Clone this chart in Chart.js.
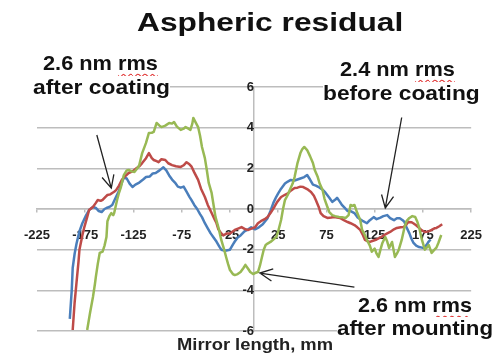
<!DOCTYPE html>
<html><head><meta charset="utf-8">
<script src="https://cdn.jsdelivr.net/npm/chart.js@4.4.0/dist/chart.umd.min.js"></script>
<style>
html,body{margin:0;padding:0;background:#fff;}
#wrap{position:relative;width:498px;height:359px;overflow:hidden;background:#fff;}
canvas{position:absolute;left:0;top:0;}
.t{position:absolute;white-space:nowrap;font-family:'Liberation Sans',Arial,sans-serif;font-weight:bold;color:#111;line-height:1;transform-origin:0 0;}
.bg{background:#fff;}
.sq{text-decoration:underline wavy #e03030;text-decoration-thickness:1px;text-underline-offset:3px;}
</style></head>
<body><div id="wrap"><canvas id="c" width="498" height="359"></canvas>
<div class="t" data-w="266" style="left:137px;top:9px;font-size:26px">Aspheric residual</div>
<div class="t bg" data-w="115" style="left:43px;top:52px;font-size:21px">2.6 nm <span class="sq">rms</span></div>
<div class="t bg" data-w="137" style="left:33px;top:76px;font-size:21px">after coating</div>
<div class="t bg" data-w="115" style="left:340px;top:58px;font-size:21px">2.4 nm <span class="sq">rms</span></div>
<div class="t bg" data-w="157" style="left:323px;top:82px;font-size:21px">before coating</div>
<div class="t bg" data-w="114" style="left:358px;top:294px;font-size:21px">2.6 nm <span class="sq">rms</span></div>
<div class="t bg" data-w="156" style="left:337px;top:317px;font-size:21px">after mounting</div>
<div class="t" data-w="156" style="left:177px;top:337px;font-size:16px;color:#222">Mirror length, mm</div>
</div>
<script>
// ---- data ----
const xTickValues = [-225, -175, -125, -75, -25, 25, 75, 125, 175, 225];
const yTickValues = [-6, -4, -2, 0, 2, 4, 6];
const seriesNames = ['after mounting', 'after coating', 'before coating'];

const blueSeries = [[-191,-5.4],[-189,-4.0],[-188,-2.9],[-186,-2.2],[-184,-1.7],[-181,-1.1],[-178,-0.7],[-174,-0.3],[-171,-0.05],[-167,0.1],[-164,0.05],[-161,-0.1],[-158,-0.15],[-155,0.0],[-153,0.05],[-150,0.1],[-147,0.2],[-144,0.5],[-140,0.9],[-137,1.3],[-135,1.55],[-132,1.5],[-129,1.25],[-126,1.08],[-123,1.2],[-119,1.3],[-115,1.45],[-112,1.57],[-108,1.6],[-105,1.75],[-102,1.77],[-98,1.9],[-94,2.05],[-91,1.9],[-88,1.65],[-85,1.45],[-82,1.3],[-79,1.1],[-76,1.05],[-73,1.1],[-70,0.85],[-67,0.6],[-65,0.45],[-62,0.2],[-59,0.0],[-56,-0.25],[-54,-0.4],[-51,-0.7],[-48,-0.95],[-45,-1.2],[-42,-1.4],[-39,-1.6],[-36,-1.85],[-34,-2.0],[-30,-2.05],[-25,-2.0],[-22,-1.75],[-20,-1.6],[-17,-1.4],[-14,-1.3],[-10,-1.1],[-6,-1.0],[-3,-0.9],[1,-1.0],[5,-0.9],[9,-0.75],[14,-0.45],[17,-0.1],[20,0.3],[23,0.6],[25,0.77],[28,1.0],[32,1.25],[35,1.35],[38,1.43],[42,1.4],[45,1.45],[48,1.5],[52,1.57],[55,1.67],[58,1.45],[61,1.2],[64,1.15],[68,1.05],[71,0.95],[74,0.8],[78,0.55],[81,0.35],[84,0.45],[86,0.55],[89,0.35],[91,0.2],[94,0.05],[97,-0.1],[100,-0.1],[104,-0.2],[107,-0.4],[110,-0.5],[113,-0.6],[117,-0.7],[120,-0.55],[124,-0.4],[127,-0.5],[131,-0.42],[134,-0.35],[138,-0.3],[141,-0.45],[145,-0.55],[148,-0.45],[151,-0.45],[154,-0.55],[156,-0.65],[158,-0.9],[161,-1.2],[163,-1.45],[165,-1.65],[168,-1.8],[171,-1.87],[174,-1.9],[176,-1.92],[179,-1.75],[181,-1.6],[183,-1.5]];

const redSeries = [[-188,-5.95],[-186,-4.6],[-184,-3.6],[-182,-2.6],[-181,-2.0],[-178,-1.3],[-176,-0.9],[-173,-0.4],[-171,-0.05],[-167,0.1],[-164,0.3],[-162,0.44],[-159,0.4],[-157,0.45],[-154,0.6],[-152,0.69],[-149,0.72],[-147,0.79],[-145,0.85],[-143,0.93],[-140,1.15],[-137,1.43],[-134,1.6],[-130,1.77],[-126,1.85],[-122,2.0],[-119,2.1],[-116,2.26],[-112,2.5],[-109,2.75],[-106,2.5],[-104,2.41],[-101,2.35],[-99,2.3],[-96,2.45],[-92,2.41],[-89,2.25],[-85,2.16],[-81,2.1],[-76,2.07],[-73,2.15],[-70,2.3],[-67,2.2],[-65,2.1],[-62,1.8],[-58,1.43],[-55,1.0],[-51,0.59],[-48,0.2],[-44,-0.2],[-41,-0.5],[-39,-0.69],[-37,-1.0],[-34,-1.2],[-32,-1.3],[-28,-1.2],[-25,-1.2],[-20,-1.03],[-16,-0.95],[-13,-0.89],[-9,-1.0],[-6,-1.03],[-2,-0.95],[1,-0.9],[4,-0.7],[7,-0.6],[11,-0.5],[14,-0.39],[17,-0.2],[21,0.1],[24,0.35],[28,0.59],[32,0.7],[35,0.77],[38,0.9],[42,1.03],[45,1.05],[48,1.1],[51,1.08],[53,1.03],[56,0.95],[59,0.84],[62,0.65],[64,0.44],[67,0.1],[69,-0.2],[72,-0.35],[76,-0.44],[80,-0.42],[83,-0.39],[86,-0.42],[89,-0.44],[93,-0.55],[97,-0.64],[100,-0.7],[104,-0.79],[107,-0.9],[110,-1.03],[113,-1.3],[115,-1.52],[118,-1.6],[120,-1.62],[124,-1.55],[127,-1.5],[131,-1.4],[135,-1.28],[138,-1.2],[141,-1.13],[145,-1.0],[148,-0.93],[152,-0.9],[155,-0.89],[158,-0.75],[160,-0.64],[163,-0.65],[165,-0.7],[168,-0.8],[171,-0.93],[174,-1.05],[177,-1.13],[181,-1.1],[184,-1.03],[187,-0.95],[189,-0.93],[192,-0.85],[195,-0.75]];

const greenSeries = [[-173,-5.95],[-170,-5.1],[-167,-4.33],[-165,-3.7],[-164,-3.34],[-162,-2.7],[-160,-2.16],[-157,-2.1],[-155,-1.8],[-153,-1.38],[-152,-0.6],[-150,-0.35],[-148,-0.2],[-146,-0.3],[-145,-0.2],[-142,0.44],[-140,0.8],[-138,1.08],[-135,1.67],[-132,1.9],[-130,1.92],[-127,1.85],[-124,1.82],[-121,2.0],[-119,2.16],[-116,2.75],[-112,3.25],[-109,3.74],[-106,3.75],[-104,3.79],[-101,4.23],[-98,4.1],[-96,4.03],[-92,4.1],[-88,4.23],[-85,4.2],[-83,4.28],[-80,4.05],[-76,3.89],[-73,3.95],[-71,4.03],[-68,3.95],[-66,3.89],[-64,4.2],[-63,4.48],[-61,4.3],[-58,4.03],[-56,3.6],[-54,3.05],[-51,2.5],[-49,1.92],[-47,1.28],[-44,0.79],[-42,0.2],[-40,-0.39],[-37,-0.9],[-34,-1.52],[-31,-2.0],[-29,-2.36],[-27,-2.7],[-25,-3.0],[-22,-3.2],[-20,-3.25],[-17,-3.2],[-14,-3.1],[-11,-2.9],[-9,-2.75],[-6,-2.95],[-4,-3.1],[-1,-3.2],[1,-3.15],[4,-3.1],[6,-2.8],[8,-2.4],[10,-2.0],[12,-1.77],[14,-1.7],[17,-1.62],[20,-1.5],[23,-1.38],[25,-1.1],[28,-0.54],[30,0.0],[32,0.44],[35,0.7],[37,0.93],[40,1.25],[42,1.57],[45,2.26],[48,2.75],[50,2.95],[52,3.05],[55,2.9],[58,2.6],[61,2.26],[63,1.9],[66,1.57],[68,1.25],[71,0.93],[73,0.5],[76,0.1],[78,-0.15],[81,-0.3],[84,-0.35],[88,-0.39],[91,-0.4],[95,-0.44],[98,-0.3],[100,0.2],[102,0.15],[104,0.2],[107,-0.2],[110,-0.54],[112,-1.03],[115,-1.3],[117,-1.52],[120,-1.8],[122,-2.1],[125,-1.95],[127,-2.2],[129,-2.36],[131,-2.0],[133,-1.67],[136,-1.38],[138,-1.6],[140,-1.92],[143,-1.62],[146,-2.36],[148,-2.2],[150,-2.0],[153,-1.52],[156,-0.89],[158,-0.6],[161,-0.44],[164,-0.35],[167,-0.39],[169,-0.6],[171,-0.89],[174,-1.52],[177,-2.0],[179,-1.9],[181,-1.77],[184,-2.16],[187,-2.0],[189,-1.9],[191,-1.67],[194,-1.28]];

// annotation arrows, in data units: [fromX, fromY, toX, toY]
const arrowsData = [[-163, 3.64, -148, 1.03], [153, 4.5, 136, 0.05], [104, -3.84, 6, -3.15]];

// ---- fit overlay text widths ----
document.querySelectorAll('.t[data-w]').forEach(el => {
  const w = el.offsetWidth;
  el.style.transform = 'scaleX(' + (parseFloat(el.dataset.w) / w) + ')';
});

const toPts = s => s.map(p => ({x: p[0], y: p[1]}));
const FONT = "'Liberation Sans', Arial, sans-serif";
const GRID = '#bdbdbd';

const arrowPlugin = {
  id: 'arrows',
  afterDatasetsDraw(chart) {
    const {ctx, scales: {x, y}} = chart;
    ctx.save();
    ctx.strokeStyle = '#222';
    ctx.lineWidth = 1.3;
    arrowsData.forEach(a => {
      const x1 = x.getPixelForValue(a[0]), y1 = y.getPixelForValue(a[1]);
      const x2 = x.getPixelForValue(a[2]), y2 = y.getPixelForValue(a[3]);
      const ang = Math.atan2(y2 - y1, x2 - x1), L = 14, sp = 0.45;
      ctx.beginPath();
      ctx.moveTo(x1, y1); ctx.lineTo(x2, y2);
      ctx.moveTo(x2 - L * Math.cos(ang - sp), y2 - L * Math.sin(ang - sp));
      ctx.lineTo(x2, y2);
      ctx.lineTo(x2 - L * Math.cos(ang + sp), y2 - L * Math.sin(ang + sp));
      ctx.stroke();
    });
    ctx.restore();
  }
};

new Chart(document.getElementById('c'), {
  type: 'line',
  data: {
    datasets: [
      {label: seriesNames[0], data: toPts(greenSeries), borderColor: '#98B954'},
      {label: seriesNames[1], data: toPts(redSeries), borderColor: '#BE4B48'},
      {label: seriesNames[2], data: toPts(blueSeries), borderColor: '#4A7EBB'}
    ].map(d => Object.assign(d, {borderWidth: 2.5, pointRadius: 0, tension: 0, fill: false, borderJoinStyle: 'round'}))
  },
  options: {
    responsive: false,
    animation: false,
    devicePixelRatio: 1,
    layout: {padding: {left: 37, right: 23, top: 87, bottom: 28}},
    plugins: {legend: {display: false}, tooltip: {enabled: false}, title: {display: false}},
    scales: {
      x: {
        type: 'linear', position: {y: 0}, min: -225, max: 225,
        afterBuildTicks: s => { s.ticks = xTickValues.map(v => ({value: v})); },
        grid: {display: true, drawOnChartArea: false, drawTicks: true, tickLength: 3, color: GRID, lineWidth: 1.5},
        border: {display: true, color: GRID, width: 1.5},
        ticks: {padding: 16, color: '#222', font: {family: FONT, size: 13, weight: 'bold'}, maxRotation: 0, autoSkip: false}
      },
      y: {
        type: 'linear', position: {x: 0}, min: -6, max: 6,
        afterBuildTicks: s => { s.ticks = yTickValues.map(v => ({value: v})); },
        grid: {color: GRID, lineWidth: 1.5, drawTicks: false},
        border: {display: true, color: GRID, width: 1.5},
        ticks: {padding: 18, color: '#222', font: {family: FONT, size: 13, weight: 'bold'}}
      }
    }
  },
  plugins: [arrowPlugin]
});
</script>
</body></html>
